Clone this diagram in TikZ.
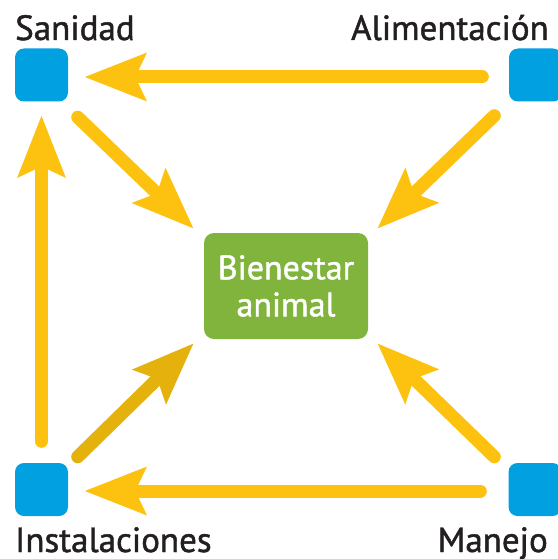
\documentclass[tikz,border=0pt]{standalone}
\usepackage{fontspec}
\setmainfont{PT Sans}
\newfontfamily\labfont{PT Sans}[FakeBold=1.3]
\usetikzlibrary{arrows.meta,calc}
\definecolor{yel}{HTML}{FDC20F}
\definecolor{yeldark}{HTML}{E5B10C}
\definecolor{bluesq}{HTML}{00A0E1}
\definecolor{greenbox}{HTML}{80B43C}
\definecolor{txt}{HTML}{231F20}
\begin{document}
\begin{tikzpicture}[x=1pt,y=-1pt,
  sq/.style={fill=bluesq, rounded corners=9pt, minimum size=53pt, inner sep=0pt, draw=none},
  gbox/.style={fill=greenbox, rounded corners=10pt, minimum width=164pt, minimum height=106pt, inner sep=0pt, text=white, align=center, font=\labfont\fontsize{34}{37}\selectfont},
  arr/.style={draw=yel, line width=13pt, line cap=round, -{Stealth[length=61pt,width=46pt,inset=10pt]}},
  lab/.style={text=txt, font=\labfont\fontsize{35}{40}\selectfont, inner sep=0pt}]
\useasboundingbox (0,0) rectangle (557,559);

\node[sq] (TL) at (41.5,75) {};
\node[sq] (TR) at (535.5,75) {};
\node[sq] (BL) at (41.5,489.5) {};
\node[sq] (BR) at (535,489.5) {};
\node[gbox] (G) at (286,286) {Bienestar\\animal};

\node[lab, anchor=base west] (lsan) at (15,40) {Sanidad};
\node[lab, anchor=base east] (lali) at (549,40) {Alimentación};
\node[lab, anchor=base west] (lins) at (15,552) {Instalaciones};
\node[lab, anchor=base east] (lman) at (548,552) {Manejo};

% horizontal and vertical
\draw[arr, shorten <=26.5pt, shorten >=16pt] ([yshift=-2pt]TR.west) -- ([yshift=-2pt]TL.east);
\draw[arr, shorten <=21.5pt, shorten >=13.5pt] (BL.north) -- (TL.south);
\draw[arr, shorten <=28pt, shorten >=16pt] ([yshift=-1.5pt]BR.west) -- ([yshift=-1.5pt]BL.east);

% diagonals
\draw[arr] ([shift={(9.5,15.5)}]TL.south east) -- ([shift={(-10,-4)}]G.north west);
\draw[arr] ([shift={(-14.5,14)}]TR.south west) -- ([shift={(9,-4)}]G.north east);
\draw[arr, draw=yeldark] ([shift={(9.5,-6)}]BL.north east) -- ([shift={(-10,4)}]G.south west);
\draw[arr] ([shift={(-14,-6)}]BR.north west) -- ([shift={(9,4)}]G.south east);
\end{tikzpicture}
\end{document}
